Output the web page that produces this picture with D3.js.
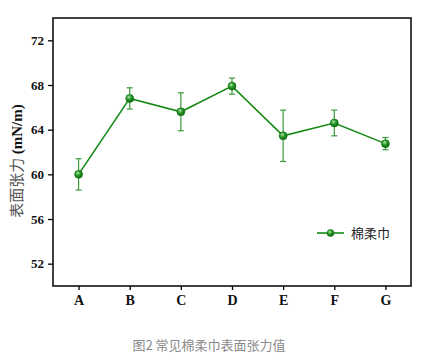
<!DOCTYPE html>
<html>
<head>
<meta charset="utf-8">
<script src="https://cdn.jsdelivr.net/npm/d3@7"></script>
<style>
  body { margin: 0; background: #fff; }
  svg { display: block; }
</style>
</head>
<body>
<div id="chart"></div>
<script>
'use strict';

// datos
var categories = ['A', 'B', 'C', 'D', 'E', 'F', 'G'];
var values = [60.0, 66.8, 65.6, 67.9, 63.45, 64.6, 62.75];
var errors = [1.4, 0.95, 1.7, 0.72, 2.3, 1.15, 0.55];
var yTicks = [52, 56, 60, 64, 68, 72];
var seriesName = '棉柔巾';
var yTitleCn = '表面张力';
var yTitleUnit = '(mN/m)';
var caption = '图2 常见棉柔巾表面张力值';

var W = 422, H = 361;
var margin = { top: 18, right: 11, bottom: 75, left: 53 };
var green = '#168a16';
var errGreen = '#3a9a3a';

var svg = d3.select('#chart').append('svg').attr('width', W).attr('height', H);

var defs = svg.append('defs');
var grad = defs.append('radialGradient').attr('id', 'ball').attr('cx', '40%').attr('cy', '35%').attr('r', '65%');
grad.append('stop').attr('offset', '0%').attr('stop-color', '#b8e8b0');
grad.append('stop').attr('offset', '45%').attr('stop-color', '#2a9a2a');
grad.append('stop').attr('offset', '100%').attr('stop-color', '#0a6a0a');

var x = d3.scalePoint().domain(categories).range([margin.left, W - margin.right]).padding(0.5);
var y = d3.scaleLinear().domain([50, 74]).range([H - margin.bottom, margin.top]);

// ejes
var axisY = d3.axisLeft(y).tickValues(yTicks).tickSize(5).tickPadding(4);
var gy = svg.append('g').attr('transform', 'translate(' + margin.left + ',0)').call(axisY);
gy.select('.domain').remove();
gy.selectAll('line').attr('stroke', '#000').attr('stroke-width', 1.3);
gy.selectAll('text').attr('font-family', 'Liberation Serif, serif').attr('font-weight', 'bold')
  .attr('font-size', 13).attr('fill', '#111');

var axisX = d3.axisBottom(x).tickSize(4).tickPadding(5);
var gx = svg.append('g').attr('transform', 'translate(0,' + (H - margin.bottom) + ')').call(axisX);
gx.select('.domain').remove();
gx.selectAll('line').attr('stroke', '#000').attr('stroke-width', 1.3);
gx.selectAll('text').attr('font-family', 'Liberation Serif, serif').attr('font-weight', 'bold')
  .attr('font-size', 14).attr('fill', '#111');

// marco
svg.append('rect')
  .attr('x', margin.left).attr('y', margin.top)
  .attr('width', W - margin.left - margin.right).attr('height', H - margin.top - margin.bottom)
  .attr('fill', 'none').attr('stroke', '#000').attr('stroke-width', 1.5);

var data = categories.map(function (c, i) {
  return { cat: c, v: values[i], e: errors[i] };
});

// barras de error
var eb = svg.append('g').selectAll('g').data(data).enter().append('g')
  .attr('stroke', errGreen).attr('stroke-width', 1.2);
eb.append('line')
  .attr('x1', function (d) { return x(d.cat); }).attr('x2', function (d) { return x(d.cat); })
  .attr('y1', function (d) { return y(d.v + d.e); }).attr('y2', function (d) { return y(d.v - d.e); });
eb.append('line')
  .attr('x1', function (d) { return x(d.cat) - 3; }).attr('x2', function (d) { return x(d.cat) + 3; })
  .attr('y1', function (d) { return y(d.v + d.e); }).attr('y2', function (d) { return y(d.v + d.e); });
eb.append('line')
  .attr('x1', function (d) { return x(d.cat) - 3; }).attr('x2', function (d) { return x(d.cat) + 3; })
  .attr('y1', function (d) { return y(d.v - d.e); }).attr('y2', function (d) { return y(d.v - d.e); });

// linea
var line = d3.line().x(function (d) { return x(d.cat); }).y(function (d) { return y(d.v); });
svg.append('path').datum(data).attr('d', line)
  .attr('fill', 'none').attr('stroke', green).attr('stroke-width', 1.6);

svg.append('g').selectAll('circle').data(data).enter().append('circle')
  .attr('cx', function (d) { return x(d.cat); }).attr('cy', function (d) { return y(d.v); })
  .attr('r', 4).attr('fill', 'url(#ball)').attr('stroke', '#0d700d').attr('stroke-width', 0.6);

// leyenda
var lg = svg.append('g').attr('transform', 'translate(317,233)');
lg.append('line').attr('x1', 0).attr('x2', 27).attr('y1', 0).attr('y2', 0)
  .attr('stroke', green).attr('stroke-width', 1.6);
lg.append('circle').attr('cx', 13.5).attr('cy', 0).attr('r', 3.5)
  .attr('fill', 'url(#ball)').attr('stroke', '#0d700d').attr('stroke-width', 0.6);
lg.append('text').attr('x', 34).attr('y', 0).attr('dy', '0.36em')
  .attr('font-family', 'Noto Sans CJK SC, sans-serif').attr('font-size', 13).attr('fill', '#222')
  .text(seriesName);

// titulo eje Y
var yt = svg.append('text')
  .attr('transform', 'translate(22,' + 161 + ') rotate(-90)')
  .attr('text-anchor', 'middle');
yt.append('tspan').attr('font-family', 'Noto Sans CJK SC, sans-serif').attr('font-size', 15)
  .attr('fill', '#555').text(yTitleCn + ' ');
yt.append('tspan').attr('font-family', 'Liberation Serif, serif').attr('font-weight', 'bold')
  .attr('font-size', 15).attr('fill', '#111').text(yTitleUnit);

// pie de figura
svg.append('text').attr('x', 209).attr('y', 345).attr('dy', '0.35em').attr('text-anchor', 'middle')
  .attr('font-family', 'Noto Sans CJK SC, sans-serif').attr('font-size', 13).attr('fill', '#8a8a8a')
  .text(caption);
</script>
</body>
</html>
